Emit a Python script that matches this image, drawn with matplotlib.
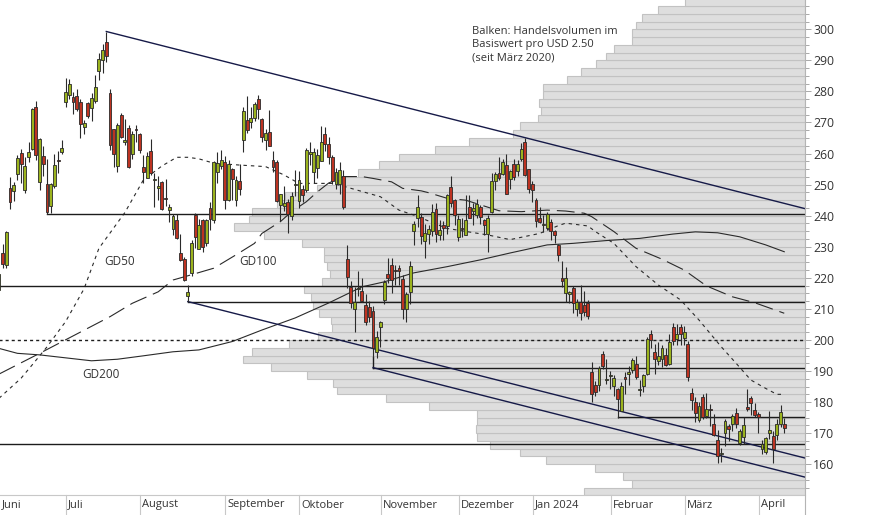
import matplotlib
matplotlib.use("Agg")
import matplotlib.pyplot as plt
from matplotlib.lines import Line2D
from matplotlib.ticker import MultipleLocator
import numpy as np
import pandas as pd

plt.rcParams['font.family'] = ['Open Sans', 'DejaVu Sans']

# US trading days shown in the chart
HOLIDAYS = ['2023-06-19', '2023-07-04', '2023-09-04', '2023-11-23', '2023-12-25',
            '2024-01-01', '2024-01-15', '2024-02-19', '2024-03-29']
dates = pd.bdate_range('2023-06-06', '2024-04-10', freq='C', holidays=HOLIDAYS)

# daily candles (USD), one row per month
OPEN = [216.14, 228.00, 224.22, 249.07, 247.94, 253.51, 260.17, 248.40, 258.92, 261.50, 275.13, 250.77, 259.29, 250.07, 243.24, 249.70, 258.03, 260.60,
        276.49, 278.82, 278.09, 278.43, 276.47, 268.65, 276.33, 274.59, 277.01, 286.63, 290.15, 296.04, 279.56, 268.00, 255.85, 272.38, 263.66, 268.31, 259.86, 267.48,
        266.26, 255.57, 252.04, 260.97, 251.45, 248.84, 250.87, 245.40, 241.77, 235.70, 238.73, 228.02, 226.06, 214.12, 221.55, 240.25, 229.34, 238.66, 231.31, 242.58, 238.58, 254.20, 255.98,
        257.26, 245.00, 255.14, 245.07, 251.22, 264.27, 270.76, 270.07, 271.32, 277.55, 271.16, 264.35, 267.04, 257.85, 257.40, 243.38, 242.98, 244.26, 240.02, 250.00,
        244.81, 248.61, 248.14, 260.00, 253.98, 255.31, 257.75, 266.20, 262.92, 258.90, 250.05, 250.10, 252.70, 225.95, 217.01, 210.00, 216.50, 215.88, 211.32, 210.60, 209.28, 196.12,
        204.04, 212.97, 221.15, 223.98, 222.60, 223.15, 219.75, 210.03, 215.60, 235.03, 239.29, 239.49, 232.00, 234.04, 235.04, 242.04, 233.75, 236.89, 236.68, 249.21, 245.14,
        233.14, 235.75, 233.87, 242.92, 241.55, 240.27, 242.74, 238.55, 234.19, 241.22, 251.21, 253.78, 253.48, 256.41, 251.90, 256.76, 254.49, 258.35, 263.66, 255.10,
        250.08, 244.98, 239.25, 236.86, 236.14, 238.11, 235.10, 230.57, 220.08, 215.10, 214.86, 216.88, 209.99, 212.26, 211.30, 211.88, 189.70, 185.50, 185.63, 195.33, 187.00,
        188.50, 185.04, 184.26, 177.21, 188.18, 189.00, 190.18, 192.11, 183.99, 185.30, 189.16, 202.06, 196.13, 193.36, 194.00, 195.31, 192.29, 204.04, 200.42, 204.18,
        200.52, 198.73, 183.05, 179.99, 174.35, 181.50, 175.45, 177.77, 173.05, 167.77, 163.16, 170.02, 172.36, 173.00, 176.39, 166.69, 168.76, 178.58, 181.41, 177.45,
        176.17, 164.75, 164.02, 170.07, 169.08, 169.34, 172.91, 173.04]
HIGH = [221.91, 230.83, 235.23, 252.42, 250.97, 259.68, 261.57, 258.95, 263.60, 274.75, 276.99, 265.00, 262.45, 258.37, 250.39, 259.88, 260.74, 264.45,
        284.25, 283.85, 279.97, 280.78, 277.52, 270.90, 276.52, 279.45, 285.30, 292.23, 295.26, 299.29, 280.93, 268.00, 269.85, 272.90, 271.00, 269.13, 267.25, 269.08,
        266.47, 259.52, 260.49, 264.77, 253.65, 252.81, 251.10, 251.80, 243.79, 240.66, 240.50, 233.97, 226.74, 217.58, 232.13, 240.82, 238.98, 238.92, 239.00, 244.38, 257.48, 260.51, 261.18,
        259.08, 258.00, 255.39, 252.81, 256.52, 274.85, 278.39, 274.98, 276.71, 278.98, 271.44, 267.85, 273.93, 260.86, 257.79, 247.10, 249.55, 245.33, 247.55, 254.77,
        254.28, 250.02, 261.86, 263.60, 261.65, 261.36, 268.94, 268.60, 265.41, 259.60, 255.40, 257.18, 254.63, 230.61, 218.86, 216.98, 222.05, 220.10, 214.80, 212.41, 210.88, 202.80,
        205.99, 219.20, 226.37, 226.32, 224.18, 224.00, 220.80, 215.38, 225.40, 238.14, 246.70, 240.88, 237.39, 237.10, 243.62, 244.01, 238.75, 238.33, 247.00, 252.75, 245.22,
        240.19, 239.37, 246.66, 246.57, 244.08, 245.27, 243.44, 238.99, 240.30, 253.88, 254.13, 258.74, 258.34, 259.84, 254.80, 258.22, 257.97, 263.34, 265.13, 255.19,
        251.25, 245.68, 242.70, 240.12, 241.25, 238.96, 235.50, 230.93, 225.34, 223.49, 215.67, 217.45, 213.19, 217.80, 215.65, 212.73, 193.00, 186.78, 191.48, 196.36, 193.97,
        189.88, 188.69, 184.68, 186.49, 189.79, 191.62, 194.12, 194.73, 187.26, 188.89, 200.88, 203.17, 198.60, 199.44, 198.32, 197.57, 201.78, 205.60, 205.30, 205.28,
        204.52, 199.75, 184.59, 181.58, 180.04, 182.73, 182.87, 179.43, 176.05, 171.17, 165.18, 174.72, 172.82, 176.25, 178.18, 171.20, 175.24, 184.25, 181.91, 179.57,
        176.75, 167.69, 168.82, 177.19, 170.86, 174.50, 179.22, 174.93]
LOW = [212.53, 223.20, 223.01, 242.02, 244.59, 251.34, 250.50, 247.29, 257.21, 261.07, 257.78, 248.25, 252.80, 240.70, 240.85, 248.89, 253.61, 259.89,
       275.11, 277.60, 272.88, 273.77, 265.10, 266.37, 271.46, 270.60, 276.31, 283.57, 286.01, 289.52, 261.20, 255.80, 254.12, 265.00, 262.60, 255.30, 258.23, 263.78,
       260.25, 250.49, 252.00, 253.11, 242.76, 245.15, 241.90, 243.00, 238.02, 233.75, 232.61, 225.38, 218.83, 212.36, 220.58, 229.55, 229.29, 228.18, 230.35, 235.35, 237.77, 250.59, 255.05,
       242.01, 244.86, 245.06, 243.27, 246.67, 260.61, 266.60, 268.10, 270.42, 271.00, 263.76, 261.20, 262.46, 254.21, 244.48, 238.31, 241.66, 234.58, 238.65, 246.35,
       242.62, 244.45, 247.60, 256.25, 250.65, 252.05, 257.65, 260.90, 256.63, 250.22, 248.48, 247.08, 242.08, 216.78, 210.42, 202.51, 214.11, 212.20, 204.88, 205.77, 194.67, 194.07,
       197.85, 211.45, 218.40, 215.00, 217.64, 217.64, 206.68, 205.69, 211.61, 230.72, 236.45, 230.96, 226.54, 231.02, 233.34, 231.40, 232.33, 232.10, 234.01, 242.76, 236.91,
       231.90, 233.29, 233.70, 239.17, 236.98, 239.27, 237.45, 233.87, 228.20, 240.79, 248.30, 251.36, 253.01, 247.00, 248.55, 251.37, 252.91, 257.52, 252.71, 247.43,
       244.41, 236.32, 237.73, 234.90, 235.30, 232.04, 231.29, 225.37, 217.15, 212.18, 212.01, 208.74, 207.56, 206.27, 207.75, 206.77, 180.06, 182.10, 183.67, 190.61, 185.85,
       184.28, 182.00, 175.01, 177.11, 182.68, 185.58, 189.48, 187.28, 182.11, 183.35, 188.86, 197.40, 189.13, 191.95, 191.36, 191.50, 192.00, 198.26, 198.44, 198.45,
       198.50, 186.72, 177.57, 173.70, 173.70, 174.70, 174.80, 172.41, 169.15, 160.51, 160.76, 165.90, 167.42, 170.82, 171.80, 166.30, 166.65, 177.11, 176.00, 175.30,
       170.21, 163.43, 163.28, 168.01, 160.51, 167.79, 171.92, 170.01]
CLOSE = [221.31, 224.57, 234.86, 244.40, 249.83, 258.71, 256.79, 255.90, 260.54, 274.45, 259.46, 264.61, 256.60, 241.05, 250.21, 256.24, 257.50, 261.77,
         279.82, 282.48, 276.54, 274.43, 269.61, 269.79, 271.99, 277.90, 281.38, 290.38, 293.34, 291.26, 262.90, 260.02, 269.06, 265.28, 264.35, 255.71, 266.44, 267.43,
         261.07, 254.11, 259.32, 253.86, 251.45, 249.70, 242.19, 245.34, 242.65, 239.76, 232.96, 225.60, 219.22, 215.49, 231.28, 233.19, 236.86, 230.04, 238.59, 238.82, 257.18, 256.90, 258.08,
         245.01, 256.49, 251.92, 251.49, 248.50, 273.58, 267.48, 271.30, 276.04, 274.39, 265.28, 266.50, 262.59, 255.70, 244.88, 246.99, 244.12, 240.50, 246.38, 250.22,
         251.60, 246.53, 261.16, 260.05, 260.53, 259.67, 263.62, 262.99, 258.87, 251.12, 253.92, 254.85, 242.68, 220.11, 211.99, 212.08, 216.52, 212.42, 205.76, 207.30, 197.36, 200.84,
         205.66, 218.51, 219.96, 219.27, 222.18, 222.11, 209.98, 214.65, 223.71, 237.41, 242.84, 233.59, 234.30, 235.60, 241.20, 234.21, 235.45, 236.08, 246.72, 244.14, 240.08,
         238.83, 235.58, 238.72, 239.37, 242.64, 243.84, 239.74, 237.01, 239.29, 251.05, 253.50, 252.08, 257.22, 247.14, 254.50, 252.54, 256.61, 261.44, 253.18, 248.48,
         248.42, 238.45, 237.93, 237.49, 240.45, 234.96, 233.94, 227.22, 218.89, 219.91, 215.55, 211.88, 212.19, 208.80, 209.14, 207.83, 182.63, 183.25, 190.93, 191.59, 187.29,
         188.86, 187.91, 181.06, 185.10, 187.58, 189.56, 193.57, 188.13, 184.02, 188.71, 200.45, 199.95, 193.76, 194.77, 197.41, 191.97, 199.40, 199.73, 202.04, 201.88,
         202.64, 188.14, 180.74, 176.54, 178.65, 175.34, 177.77, 177.54, 169.48, 162.50, 163.57, 173.80, 171.32, 175.66, 172.82, 170.83, 172.63, 177.67, 179.83, 175.79,
         175.22, 166.63, 168.38, 171.11, 164.90, 172.98, 176.88, 171.76]

# moving averages
GD50_DATES = ['2023-06-06', '2023-06-14', '2023-06-20', '2023-06-26', '2023-07-03', '2023-07-11', '2023-07-17',
              '2023-07-26', '2023-08-02', '2023-08-09', '2023-08-15', '2023-08-18', '2023-08-23', '2023-08-29',
              '2023-09-08', '2023-09-19', '2023-09-26', '2023-10-02', '2023-10-13', '2023-10-18', '2023-11-01',
              '2023-11-08', '2023-11-14', '2023-11-28', '2023-12-13', '2023-12-21', '2024-01-04', '2024-01-11',
              '2024-01-16', '2024-01-24', '2024-01-26', '2024-02-02', '2024-02-12', '2024-02-21', '2024-02-29',
              '2024-03-07', '2024-03-15', '2024-03-21', '2024-03-27', '2024-04-03', '2024-04-08', '2024-04-10']
GD50 = [181.2, 187.7, 192.0, 197.8, 205.9, 216.5, 229.5, 241.0, 251.5, 256.0, 258.8, 258.8, 258.3, 256.9,
        256.3, 255.8, 253.1, 250.4, 250.4, 249.5, 246.1, 241.8, 240.2, 235.9, 233.8, 232.3, 234.3, 236.8,
        237.6, 236.7, 234.9, 231.1, 223.6, 217.7, 212.9, 206.4, 197.8, 192.5, 187.1, 184.4, 182.5, 182.5]

GD100_DATES = ['2023-06-06', '2023-06-22', '2023-07-20', '2023-07-28', '2023-08-08', '2023-08-14', '2023-08-21',
               '2023-08-29', '2023-09-07', '2023-09-14', '2023-09-18', '2023-09-25', '2023-09-28', '2023-10-04',
               '2023-10-09', '2023-10-12', '2023-10-18', '2023-10-25', '2023-10-30', '2023-11-06', '2023-11-09',
               '2023-11-16', '2023-11-20', '2023-11-28', '2023-12-05', '2023-12-18', '2023-12-27', '2024-01-08',
               '2024-01-16', '2024-01-23', '2024-01-25', '2024-02-02', '2024-02-12', '2024-02-22', '2024-03-01',
               '2024-03-11', '2024-03-20', '2024-03-28', '2024-04-10']
GD100 = [189.0, 195.7, 207.5, 211.8, 215.5, 219.3, 221.0, 223.1, 227.4, 231.1, 234.3, 238.1, 241.3, 244.5,
         247.7, 250.5, 252.6, 252.6, 252.0, 250.9, 248.8, 248.0, 247.4, 245.6, 245.0, 241.6, 241.3, 241.8,
         241.5, 240.8, 239.7, 234.9, 229.5, 226.0, 222.5, 217.4, 213.9, 212.0, 208.6]

GD200_DATES = ['2023-06-06', '2023-06-13', '2023-06-22', '2023-07-13', '2023-07-24', '2023-08-02', '2023-08-14',
               '2023-08-23', '2023-09-06', '2023-09-18', '2023-09-29', '2023-10-12', '2023-10-25', '2023-11-02',
               '2023-11-14', '2023-11-28', '2023-12-11', '2023-12-21', '2024-01-08', '2024-01-18', '2024-01-31',
               '2024-02-13', '2024-02-27', '2024-03-06', '2024-03-14', '2024-03-22', '2024-04-03', '2024-04-10']
GD200 = [197.3, 195.7, 195.2, 193.3, 193.8, 194.9, 196.2, 196.8, 199.5, 203.2, 207.1, 211.9, 217.1, 218.7,
         221.6, 223.6, 225.8, 228.0, 230.6, 231.1, 232.0, 232.7, 234.1, 234.8, 234.5, 233.2, 230.6, 228.4]

# volume profile: one bar per USD 2.50 price bin, starting at 150
PROFILE_START = 150.0
PROFILE_STEP = 2.5
PROFILE_VOLUME = [221, 173, 182, 210, 259, 285, 315, 328, 329, 328, 328, 376, 419, 468, 472, 498,
                  534, 562, 553, 516, 487, 473, 474, 486, 492, 494, 501, 483, 475, 478, 481, 481,
                  503, 541, 571, 556, 553, 528, 520, 488, 460, 447, 426, 406, 370, 336, 292, 285,
                  267, 264, 266, 262, 262, 238, 224, 209, 199, 191, 173, 173, 169, 163, 147, 120]

# trend channel: line through two highs, parallels from two lows
TREND_HIGHS = [('2023-07-19', 299.29), ('2023-12-28', 265.13)]
PARALLEL_STARTS = [('2023-08-18', 212.36), ('2023-10-30', 191.1)]

# horizontal support/resistance lines (start date, level)
LEVELS = [(None, 217.4), (None, 166.5), ('2023-06-26', 240.6), ('2023-08-18', 212.36),
          ('2023-10-30', 191.1), ('2024-02-05', 175.2)]
DASHED_LEVEL = 200

MONTH_LABELS = ['Juni', 'Juli', 'August', 'September', 'Oktober', 'November', 'Dezember',
                'Jan 2024', 'Februar', 'März', 'April']

NOTE = 'Balken: Handelsvolumen im\nBasiswert pro USD 2.50\n(seit März 2020)'

GREEN = '#9bb31e'
RED = '#bd3322'
INK = '#2a2a2a'
NAVY = '#161a48'
TEXT = '#333333'

W, H = 874, 515
PLOT_W, PLOT_H = 805, 495
XMIN, XMAX = 0.3, 217.6
YMIN, YMAX = 150.1, 309.43


def day(d):
    return dates.get_loc(pd.Timestamp(d))


fig = plt.figure(figsize=(W / 100, H / 100), dpi=100)
rect = [0, (H - PLOT_H) / H, PLOT_W / W, PLOT_H / H]

# volume profile in its own axes, bars growing from the right edge
axv = fig.add_axes(rect)
bins = PROFILE_START + PROFILE_STEP * np.arange(len(PROFILE_VOLUME))
axv.barh(bins + PROFILE_STEP / 2, PROFILE_VOLUME, height=PROFILE_STEP, left=0,
         color='#dedede', edgecolor='#c2c2c2', linewidth=0.8)
axv.set_xlim(PLOT_W, 0)
axv.set_ylim(YMIN, YMAX)
axv.axis('off')

ax = fig.add_axes(rect, sharey=axv)
ax.patch.set_visible(False)
ax.set_xlim(XMIN, XMAX)
ax.set_ylim(YMIN, YMAX)

x = np.arange(len(dates))
o, h, l, c = map(np.array, (OPEN, HIGH, LOW, CLOSE))

# moving averages
for ds, vals, ls in [(GD200_DATES, GD200, '-'),
                     (GD100_DATES, GD100, (0, (16, 6.3))),
                     (GD50_DATES, GD50, (0, (3.1, 3.6)))]:
    ax.plot([day(d) for d in ds], vals, color=INK, lw=0.8, ls=ls, zorder=2)

# horizontal levels
for start, lvl in LEVELS:
    x0 = XMIN - 1 if start is None else day(start)
    ax.plot([x0, XMAX + 1], [lvl, lvl], color='#1c1c1c', lw=1.0, zorder=3)
    if start is not None and l[x0] > lvl + 0.5:
        ax.plot([x0, x0], [lvl, l[x0]], color='#1c1c1c', lw=1.0, zorder=3)
ax.plot([XMIN - 1, XMAX + 1], [DASHED_LEVEL] * 2, color='#1c1c1c', lw=1.0,
        ls=(0, (2.2, 2.2)), zorder=3)

# trend channel
(d1, p1), (d2, p2) = TREND_HIGHS
slope = (p2 - p1) / (day(d2) - day(d1))
ax.plot([day(d1), XMAX + 1], [p1, p1 + slope * (XMAX + 1 - day(d1))], color=NAVY, lw=1.0, zorder=3)
for d, p in PARALLEL_STARTS:
    ax.plot([day(d), XMAX + 1], [p, p + slope * (XMAX + 1 - day(d))], color=NAVY, lw=1.0, zorder=3)

# candles
ax.vlines(x, l, h, color=INK, lw=0.8, zorder=4)
up = c >= o
body = np.maximum(np.abs(c - o), 0.35)
ax.bar(x, body, bottom=np.minimum(o, c), width=0.78,
       color=np.where(up, GREEN, RED), edgecolor=INK, linewidth=0.6, zorder=5)

# labels for the averages
ax.text(day('2023-07-18') + 0.4, 225.4, 'GD50', fontsize=8.5, color=TEXT, va='center')
ax.text(day('2023-09-07') + 0.8, 225.1, 'GD100', fontsize=8.5, color=TEXT, va='center')
ax.text(day('2023-07-10') + 0.4, 188.9, 'GD200', fontsize=8.5, color=TEXT, va='center')

ax.text(472 / PLOT_W, 1 - 26 / PLOT_H, NOTE, transform=ax.transAxes, fontsize=8,
        color=TEXT, va='top', ha='left', linespacing=1.25)

# axes styling
for s in ['left', 'top', 'right']:
    ax.spines[s].set_visible(False)
ax.spines['bottom'].set_color('#c8c8c8')
ax.spines['bottom'].set_linewidth(0.8)
ax.set_xticks([])
ax.yaxis.tick_right()
ax.set_yticks(range(160, 301, 10))
ax.yaxis.set_minor_locator(MultipleLocator(2.5))
ax.tick_params(axis='y', which='major', length=4.5, width=0.7, color='#a8a8a8',
               labelsize=8.8, labelcolor=TEXT, pad=1.5)
ax.tick_params(axis='y', which='minor', length=3, width=0.7, color='#a8a8a8')
fig.add_artist(Line2D([PLOT_W / W] * 2, [0, 1], transform=fig.transFigure,
                      color='#b4b4b4', lw=0.8))

# month separators and labels below the plot
months = dates.to_period('M')
firsts = [0] + [i for i in range(1, len(dates)) if months[i] != months[i - 1]]
tr = ax.get_xaxis_transform()
for i, (f, lab) in enumerate(zip(firsts, MONTH_LABELS)):
    sx = XMIN if i == 0 else f + 0.1
    if i > 0:
        ax.plot([sx, sx], [-(H - PLOT_H) / PLOT_H, 0], transform=tr, clip_on=False,
                color='#c8c8c8', lw=0.8)
    ax.text(sx + 0.55, -10 / PLOT_H, lab, transform=tr, fontsize=8, color=TEXT,
            va='center', ha='left')

fig.savefig('out.png', dpi=100)
